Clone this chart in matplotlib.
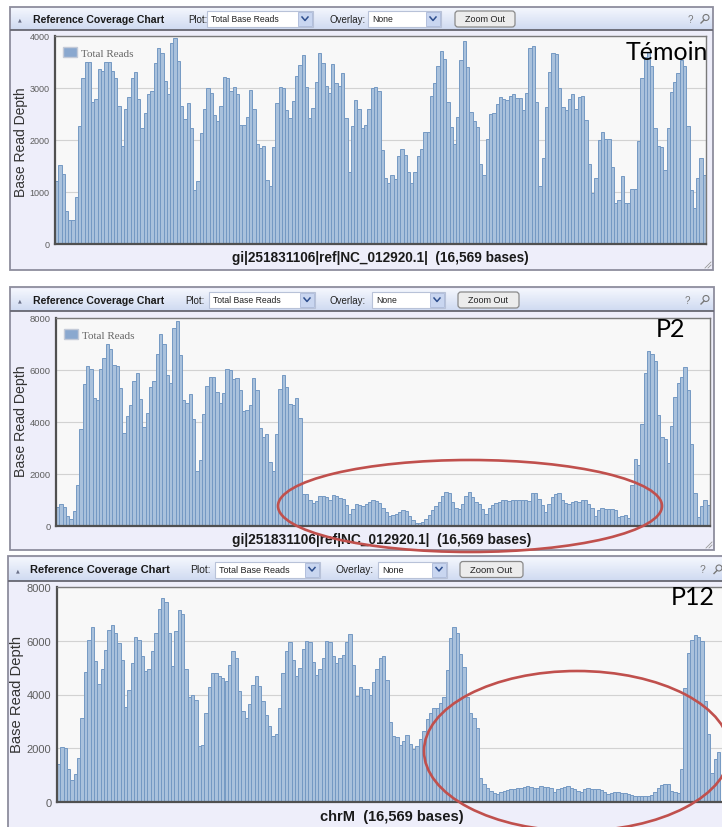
import numpy as np
import matplotlib
matplotlib.use("Agg")
import matplotlib.pyplot as plt
from matplotlib.patches import Rectangle, Ellipse, FancyBboxPatch, Circle

W, H = 722, 828

# coverage per bin
temoin_reads = [1220, 1510, 1340, 630, 460, 470, 910, 2260, 3200, 3500,
                3500, 2740, 2790, 3360, 3330, 3500, 3500, 3320, 3190, 2660,
                1890, 2600, 2830, 3190, 3300, 2790, 2230, 2520, 2890, 2950,
                3490, 3760, 3670, 3130, 2890, 3870, 3970, 3520, 2660, 2410,
                2710, 2230, 1030, 1220, 2130, 2600, 3000, 2910, 2480, 2360,
                2650, 3220, 3190, 2950, 3020, 2880, 2290, 2290, 2440, 2970,
                2600, 1930, 1850, 1880, 1230, 1110, 1870, 2710, 3020, 3000,
                2580, 2420, 2750, 3240, 3450, 3640, 3020, 2420, 2610, 3110,
                3670, 3480, 3040, 2900, 3470, 3090, 3040, 3290, 2420, 1380,
                2260, 2760, 2600, 2230,
                2290, 2600, 3000, 3020, 2940, 1800, 1260, 1170, 1320, 1250,
                1690, 1820, 1720, 1380, 1170, 1380, 1690, 1820, 2160, 2160,
                2840, 3090, 3430, 3710, 3560, 2730, 2250, 1930, 2440, 3530,
                3900, 3400, 2540, 2360, 2250, 1540, 1320, 2020, 2500, 2520,
                2700, 2830, 2790, 2760, 2840, 2890, 2810, 2810, 2570, 2910,
                3760, 3810, 2740, 1120, 1650, 2630, 3310, 3680, 3660, 3000,
                2640, 2570, 2790, 2890, 2600, 2830, 2840, 2390, 1540, 980,
                1270, 2000, 2160, 2020, 2020, 1480, 790, 850, 1300, 790,
                790, 1060, 1060, 1990, 3200, 3600, 3690, 3420, 2230, 1890,
                1860, 1430, 2230, 2930, 3110, 3290, 3530, 3420, 2270, 1030,
                690, 1260, 1650, 1320]

p2_reads = [730, 860, 730, 380, 260, 560, 1560, 3740, 5450, 6150,
            6030, 4940, 4830, 6050, 6470, 6990, 6790, 6180, 6150, 5310,
            3590, 4230, 4670, 5580, 5900, 4870, 3810, 4360, 5350, 5580,
            6630, 7370, 6990, 5790, 5500, 7630, 7870, 6560, 4860, 4740,
            5090, 4130, 2120, 2530, 4290, 5380, 5730, 5730, 5150, 4740,
            5130, 6050, 5990, 5640, 5710, 5240, 4410, 4470, 4640, 5710,
            5240, 3770, 3420, 3550, 2460, 2120, 3550, 5260, 5820, 5350,
            4680, 4640, 4920, 4150, 1240, 1220, 990, 880, 960, 1140,
            1140, 1120, 990, 1180, 1140, 1080, 1050, 800, 470, 670,
            860, 820,
            760, 860, 920, 990, 960, 880, 690, 540, 380, 410,
            470, 540, 600, 560, 380, 220, 130, 130, 150, 260,
            410, 600, 760, 920, 1150, 1310, 1280, 920, 690, 670,
            860, 1150, 1310, 1120, 920, 860, 640, 470, 690, 820,
            880, 920, 990, 990, 960, 990, 1010, 1010, 990, 1010,
            960, 1270, 1270, 1050, 800, 540, 860, 1120, 1220, 1280,
            1010, 880, 860, 920, 960, 920, 1010, 1010, 860, 690,
            380, 600, 710, 670, 670, 670, 630, 350, 370, 440,
            310, 1560, 2560, 2330, 3910, 5900, 6720, 6630, 6330, 4260,
            3420, 3330, 2420, 3850, 4960, 5500, 5730, 6110, 5220, 3170,
            1270, 350, 770, 1010, 820]

p12_reads = [1430, 2030, 2000, 1220, 820, 1030, 1620, 3120, 4850, 6030,
             6510, 5260, 4390, 4950, 5660, 6410, 6590, 6280, 5910, 5290,
             3520, 4170, 5160, 6130, 6030, 5450, 4860, 4950, 5610, 6280,
             7170, 7600, 7440, 6280, 5050, 6360, 7150, 6980, 4950, 3920,
             3980, 3790, 2070, 2110, 3300, 4290, 4790, 4790, 4670, 4600,
             4520, 5100, 5610, 5360, 4140, 3400, 3120, 3640, 4370, 4670,
             4300, 3740, 3250, 2840, 2460, 2530, 3500, 4790, 5610, 5950,
             5290, 4670, 4980, 5700, 5980, 5950, 5220, 4740, 4960, 5360,
             5980, 5950, 5450, 5160, 5350, 5470, 5950, 6260, 5100, 3960,
             4270, 4200, 4200, 3980, 4480, 4950, 5350, 5450, 4540, 2960,
             2460, 2430, 2130, 2280, 2490, 2150, 1990, 2070, 2340, 2650,
             3090, 3330, 3500, 3500, 3670, 3890, 4910, 6100, 6510, 6290,
             5510, 5010, 3920, 3330, 3110, 2770, 910, 680, 530, 410,
             350, 310, 390, 410, 450, 470, 470, 510, 530, 570,
             600, 570, 530, 530, 600, 570, 570, 530, 370, 470,
             530, 570, 600, 530, 470, 410, 370, 500, 530, 500,
             470, 470, 440, 370, 310, 350, 390, 390, 350, 320,
             290, 260, 220, 220, 220, 220, 220, 250, 390, 530,
             630, 660, 660, 410, 370, 350, 1220, 4240, 5540, 6030,
             6230, 6130, 5980, 3770, 2530, 1090, 1590, 1870]

sample_names = ["Témoin", "P2", "P12"]
ref_names = ["gi|251831106|ref|NC_012920.1|", "gi|251831106|ref|NC_012920.1|", "chrM"]
genome_len = "16,569"
y_tops = [4000, 8000, 8000]
y_steps = [1000, 2000, 2000]

# pixel layout of each screenshot panel
panels = [
    dict(box=(10, 8, 713, 271), head=(9, 31), title=33, plot_lbl=188, dd1=(207, 313),
         ov_lbl=330, dd2=(368, 441), zoom=(455, 515), help=690, mag=705,
         plot=(55, 37, 706, 245), ylab=(21, 142), xlab=(380, 258), name=(667, 53),
         tick=6.5, yfs=10, xfs=9.8, s=1.0, legend=True, extra=0),
    dict(box=(10, 288, 714, 551), head=(290, 312), title=33, plot_lbl=185, dd1=(209, 315),
         ov_lbl=330, dd2=(372, 445), zoom=(458, 519), help=687, mag=705,
         plot=(56, 319, 710, 527), ylab=(21, 421), xlab=(382, 540), name=(671, 330),
         tick=6.8, yfs=10.2, xfs=9.9, s=1.0, legend=True, extra=0),
    dict(box=(8, 557, 740, 840), head=(559, 582), title=30, plot_lbl=190, dd1=(215, 320),
         ov_lbl=335, dd2=(378, 447), zoom=(460, 523), help=702, mag=718,
         plot=(57, 588, 727, 803), ylab=(17, 694), xlab=(392, 817), name=(693, 598),
         tick=8, yfs=10.6, xfs=10.5, s=1.05, legend=False, extra=2),
]

bar_fill = "#a9c1dc"
bar_edge = "#7599c3"

fig = plt.figure(figsize=(W / 100, H / 100), dpi=100, facecolor="white")
bg = fig.add_axes([0, 0, 1, 1], zorder=0)
bg.axis("off")

grad = np.linspace(0, 1, 32).reshape(-1, 1)
head_cmap = matplotlib.colors.LinearSegmentedColormap.from_list("head", ["#f3f6fd", "#cfdaf1"])
ui = "Liberation Sans"

for i, (p, reads) in enumerate(zip(panels, [temoin_reads, p2_reads, p12_reads])):
    x0, y0, x1, y1 = p["box"]
    s = p["s"]
    bg.add_patch(Rectangle((x0, y0), x1 - x0, y1 - y0, fc="#eeeefa", ec="#8d8d9d", lw=1.3))
    h0, h1 = p["head"]
    bg.imshow(grad, extent=(x0 + 1, x1 - 1, h1, h0), cmap=head_cmap, aspect="auto", zorder=1)
    bg.plot([x0 + 1, x1 - 1], [h1, h1], color="#5c5c66", lw=1.2, zorder=2)
    hy = (h0 + h1) / 2
    bg.text(x0 + 10, hy, "▲", fontsize=3.5, color="#6a7088", ha="center", va="center", zorder=3)
    bg.text(p["title"], hy, "Reference Coverage Chart", fontsize=7.6 * s, fontweight="bold",
            family=ui, color="#1a1a1a", va="center", zorder=3)
    bg.text(p["plot_lbl"], hy, "Plot:", fontsize=7 * s, family=ui, color="#222", va="center", zorder=3)
    bg.text(p["ov_lbl"], hy, "Overlay:", fontsize=7 * s, family=ui, color="#222", va="center", zorder=3)
    for (d0, d1), txt in [(p["dd1"], "Total Base Reads"), (p["dd2"], "None")]:
        bg.add_patch(Rectangle((d0, hy - 8), d1 - d0, 16, fc="white", ec="#b8c2d8", lw=0.8, zorder=3))
        bg.add_patch(Rectangle((d1 - 15, hy - 7), 14, 14, fc="#c9d6f0", ec="#aab8d8", lw=0.6, zorder=4))
        bg.plot([d1 - 11, d1 - 8, d1 - 5], [hy - 2, hy + 1.5, hy - 2], color="#2e4f8e", lw=1.1, zorder=5)
        bg.text(d0 + 4, hy, txt, fontsize=6.2 * s, family=ui, color="#222", va="center", zorder=4)
    z0, z1 = p["zoom"]
    bg.add_patch(FancyBboxPatch((z0, hy - 8), z1 - z0, 16, boxstyle="round,pad=0,rounding_size=3",
                                fc="#ececec", ec="#8a8a8a", lw=0.9, zorder=3))
    bg.text((z0 + z1) / 2, hy, "Zoom Out", fontsize=6.5 * s, family=ui, color="#222",
            ha="center", va="center", zorder=4)
    bg.text(p["help"], hy, "?", fontsize=7 * s, family=ui, color="#777", ha="center", va="center", zorder=3)
    mx = p["mag"]
    bg.add_patch(Circle((mx + 1, hy - 1.5), 3, fill=False, ec="#777", lw=0.8, zorder=3))
    bg.plot([mx - 1, mx - 4], [hy + 1, hy + 4], color="#777", lw=1, zorder=3)
    if i < 2:
        for k in range(3):
            bg.plot([x1 - 2 - 3 * k, x1 - 2], [y1 - 2, y1 - 2 - 3 * k], color="#999", lw=0.6, zorder=3)

    px0, py0, px1, py1 = p["plot"]
    ax = fig.add_axes([px0 / W, 1 - py1 / H, (px1 - px0) / W, (py1 - py0) / H], zorder=2)
    n = len(reads)
    ax.bar(np.arange(n), reads, width=1.0, color=bar_fill, edgecolor=bar_edge, linewidth=0.7, zorder=2)
    ax.set_xlim(-0.5, n - 0.5 + p["extra"])
    ax.set_ylim(0, y_tops[i])
    ax.set_yticks(np.arange(0, y_tops[i] + 1, y_steps[i]))
    ax.set_xticks([])
    ax.set_facecolor("#f8f8f8")
    ax.grid(axis="y", color="#d2d2d2", lw=0.8, zorder=0)
    ax.set_axisbelow(True)
    ax.tick_params(axis="y", length=0, pad=4, labelsize=p["tick"], labelcolor="#5e5e5e")
    for lab in ax.get_yticklabels():
        lab.set_family(ui)
    for side in ["top", "right"]:
        ax.spines[side].set_color("#7a7a7a")
        ax.spines[side].set_linewidth(1.0)
    for side in ["left", "bottom"]:
        ax.spines[side].set_color("#505050")
        ax.spines[side].set_linewidth(1.6)
    if p["legend"]:
        ax.bar([np.nan], [np.nan], color="#8aa8cf", edgecolor="#c3cad8", lw=1, label="Total Reads")
        ax.legend(loc="upper left", bbox_to_anchor=(0.0, 0.985), frameon=False, handlelength=1.2,
                  handleheight=1.0, handletextpad=0.35, borderaxespad=0.35,
                  prop={"family": "Liberation Serif", "size": 8}, labelcolor="#666")

    bg.text(p["ylab"][0], p["ylab"][1], "Base Read Depth", rotation=90, fontsize=p["yfs"],
            family=ui, color="#333", ha="center", va="center", zorder=3)
    bg.text(p["xlab"][0], p["xlab"][1], f"{ref_names[i]}  ({genome_len} bases)", fontsize=p["xfs"],
            fontweight="bold", family=ui, color="#1a1a1a", ha="center", va="center", zorder=3)

bg.set_xlim(0, W)
bg.set_ylim(H, 0)

# annotations drawn on top of the charts
ov = fig.add_axes([0, 0, 1, 1], zorder=10)
ov.axis("off")
ov.patch.set_alpha(0)
for p, name in zip(panels, sample_names):
    ov.text(p["name"][0], p["name"][1], name, fontsize=18, family="Lato", color="black",
            ha="center", va="center")
ov.add_patch(Ellipse((470, 507), 384, 92, fill=False, ec="#c0504d", lw=1.9))
ov.add_patch(Ellipse((577, 752), 306, 160, fill=False, ec="#c0504d", lw=1.9))
ov.set_xlim(0, W)
ov.set_ylim(H, 0)

fig.savefig("out.png", dpi=100)
